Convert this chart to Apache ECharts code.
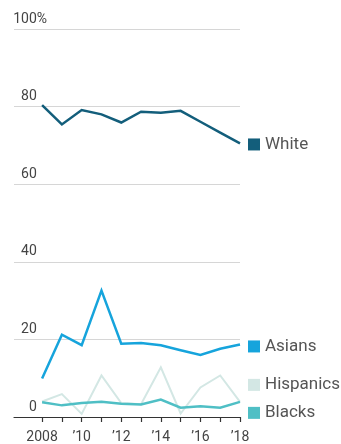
<!DOCTYPE html>
<html>
<head>
<meta charset="utf-8">
<script src="https://cdn.jsdelivr.net/npm/echarts@6/dist/echarts.min.js"></script>
<style>
  html, body { margin: 0; padding: 0; background: #fff; }
  #chart { width: 341px; height: 444px; }
</style>
</head>
<body>
<div id="chart"></div>
<script>
const years = [2008, 2009, 2010, 2011, 2012, 2013, 2014, 2015, 2016, 2017, 2018];
const labelYears = [2008, 2010, 2012, 2014, 2016, 2018];
const white = [80.4, 75.4, 79.1, 78.0, 75.9, 78.7, 78.4, 78.9, 76.1, 73.3, 70.5];
const asians = [9.9, 21.2, 18.5, 32.6, 18.9, 19.1, 18.5, 17.2, 16.0, 17.6, 18.7];
const hispanics = [4.0, 5.9, 0.8, 10.7, 3.6, 3.3, 12.8, 0.9, 7.6, 10.7, 3.9];
const blacks = [3.8, 3.0, 3.6, 3.9, 3.4, 3.2, 4.5, 2.4, 2.8, 2.4, 3.9];

const font = 'Roboto, "Noto Sans", sans-serif';

function pairs(vals) {
  return years.map((y, i) => [y, vals[i]]);
}

function line(name, vals, color, width, offsetY, z) {
  return {
    name: name,
    type: 'line',
    data: pairs(vals),
    symbol: 'none',
    z: z,
    lineStyle: { color: color, width: width, join: 'miter' },
    endLabel: {
      show: true,
      distance: 8,
      offset: [0, offsetY],
      formatter: '{s|}{t|' + name + '}',
      rich: {
        s: { width: 12, height: 12, backgroundColor: color },
        t: { fontFamily: font, fontSize: 17, color: '#555', padding: [0, 0, 0, 5] }
      }
    },
    emphasis: { disabled: true }
  };
}

const myChart = echarts.init(document.getElementById('chart'));
const option = {
  animation: false,
  grid: { left: 14, right: 101, top: 29, bottom: 27 },
  xAxis: {
    type: 'value',
    min: 2006.58,
    max: 2018,
    splitLine: { show: false },
    axisLine: { show: true, lineStyle: { color: '#333', width: 1.2 } },
    axisTick: {
      show: true,
      length: 5,
      customValues: years,
      lineStyle: { color: '#333', width: 1.2 }
    },
    axisLabel: {
      customValues: labelYears,
      margin: 13,
      fontFamily: font,
      fontSize: 14,
      color: '#444',
      formatter: function (v) {
        return v === 2008 ? '2008' : '\u2019' + String(v).slice(2);
      }
    }
  },
  yAxis: {
    type: 'value',
    min: 0,
    max: 100,
    interval: 20,
    axisLine: { show: false },
    axisTick: { show: false },
    splitLine: { lineStyle: { color: '#d6d6d6', width: 1 } },
    axisLabel: {
      inside: true,
      align: 'right',
      verticalAlign: 'bottom',
      margin: 33,
      padding: [0, 0, 3, 0],
      fontFamily: font,
      fontSize: 14,
      color: '#444',
      formatter: function (v) {
        return v === 100 ? '{n|100%}' : '{n|' + v + '}{h|%}';
      },
      rich: {
        n: { fontFamily: font, fontSize: 14, color: '#444' },
        h: { fontFamily: font, fontSize: 14, color: 'rgba(0,0,0,0)' }
      }
    }
  },
  series: [
    line('White', white, '#135e7b', 2.5, 1, 4),
    line('Asians', asians, '#16a4dc', 2.5, 2, 4),
    line('Hispanics', hispanics, '#d3e7e4', 2, -17, 2),
    line('Blacks', blacks, '#4fbfc5', 2.5, 11, 3)
  ]
};
myChart.setOption(option);
</script>
</body>
</html>
